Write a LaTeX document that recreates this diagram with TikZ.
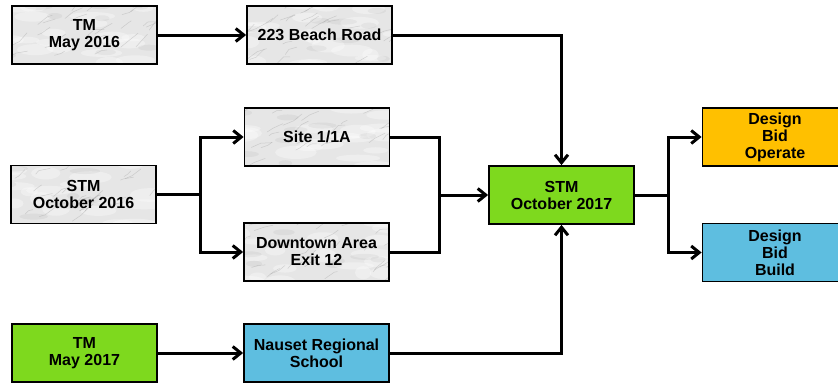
\documentclass[tikz,border=0pt]{standalone}
\usepackage{fontspec}
\setmainfont{Liberation Sans}
\usetikzlibrary{arrows.meta}

\definecolor{boxgreen}{RGB}{126,217,30}
\definecolor{boxblue}{RGB}{94,190,224}
\definecolor{boxorange}{RGB}{255,192,0}
\definecolor{marblebase}{RGB}{230,230,230}
\definecolor{marblevein}{RGB}{150,150,150}

% grey marble backing for a 145 x 58 box centred at (#1,#2), seed #3
\newcommand\marblepatch[3]{%
  \begin{scope}
    \clip (#1-72.5,#2-29) rectangle (#1+72.5,#2+29);
    \fill[marblebase] (#1-72.5,#2-29) rectangle (#1+72.5,#2+29);
    \pgfmathsetseed{#3}
    \foreach \k in {1,...,18}{
      \pgfmathsetmacro\px{#1-78+rnd*156}
      \pgfmathsetmacro\py{#2-31+rnd*62}
      \pgfmathsetmacro\rx{8+rnd*16}
      \pgfmathsetmacro\ry{3+rnd*4}
      \fill[white, opacity=0.35] (\px,\py) ellipse [x radius=\rx, y radius=\ry];
    }
    \foreach \k in {1,...,8}{
      \pgfmathsetmacro\px{#1-78+rnd*156}
      \pgfmathsetmacro\py{#2-31+rnd*62}
      \pgfmathsetmacro\rx{6+rnd*10}
      \fill[black, opacity=0.04] (\px,\py) ellipse [x radius=\rx, y radius=3];
    }
    \foreach \k in {1,...,26}{
      \pgfmathsetmacro\px{#1-78+rnd*156}
      \pgfmathsetmacro\py{#2-31+rnd*62}
      \pgfmathsetmacro\aa{15+rnd*40}
      \pgfmathsetmacro\ab{rnd*50}
      \pgfmathsetmacro\la{3+rnd*9}
      \pgfmathsetmacro\lb{3+rnd*9}
      \draw[marblevein, line width=0.5pt, opacity=0.35, line join=round, line cap=round]
        (\px,\py) -- ++(\aa:\la pt) -- ++(\ab:\lb pt);
    }
  \end{scope}}

\tikzset{
  x=1pt, y=-1pt,
  box/.style={draw=black, line width=1.8pt, minimum width=145pt,
    minimum height=58pt, inner sep=0pt, align=center,
    font=\bfseries\fontsize{16}{17}\selectfont},
  marble box/.style={box},
  green box/.style={box, fill=boxgreen},
  blue box/.style={box, fill=boxblue},
  orange box/.style={box, fill=boxorange},
  flow/.style={line width=3pt, line join=miter},
  tip/.tip={Straight Barb[length=8pt, width=13pt]},
  arr/.style={flow, -tip},
  twoarr/.style={flow, tip-tip},
}

\begin{document}
\begin{tikzpicture}
  \useasboundingbox (0,0) rectangle (838,383);

  % marble backings
  \marblepatch{84.5}{35}{11}
  \marblepatch{319.5}{35}{23}
  \marblepatch{317}{137}{37}
  \marblepatch{83.5}{194.5}{41}
  \marblepatch{316.5}{252}{53}

  % boxes
  \node[marble box] (tm16)   at (84.5,35)    {TM\\May 2016};
  \node[marble box] (beach)  at (319.5,35)   {223 Beach Road};
  \node[marble box] (site)   at (317,137)    {Site 1/1A};
  \node[marble box] (stm16)  at (83.5,194.5) {STM\\October 2016};
  \node[marble box] (down)   at (316.5,252)  {Downtown Area\\Exit 12};
  \node[green box]  (tm17)   at (84.5,353)   {TM\\May 2017};
  \node[blue box]   (nauset) at (316.5,353)  {Nauset Regional\\School};
  \node[green box]  (stm17)  at (561.5,195)  {STM\\October 2017};
  \node[orange box] (dbo)    at (775,137)    {Design\\Bid\\Operate};
  \node[blue box]   (dbb)    at (775,252.5)  {Design\\Bid\\Build};

  % junction points
  \coordinate (split)  at (200,194.5);
  \coordinate (merge)  at (439,195);
  \coordinate (fork)   at (668,195);

  % connectors
  \draw[arr] (tm16.east) -- (beach.west);
  \draw[arr] (beach.east) -| (stm17.north);

  \draw[flow] (stm16.east) -- (split);
  \draw[twoarr] (site.west) -| (split) |- (down.west);

  \draw[flow] (site.east) -| (merge) |- (down.east);
  \draw[arr] (merge) -- (stm17.west);

  \draw[arr] (tm17.east) -- (nauset.west);
  \draw[arr] (nauset.east) -| (stm17.south);

  \draw[flow] (stm17.east) -- (fork);
  \draw[twoarr] (dbo.west) -| (fork) |- (dbb.west);
\end{tikzpicture}
\end{document}
